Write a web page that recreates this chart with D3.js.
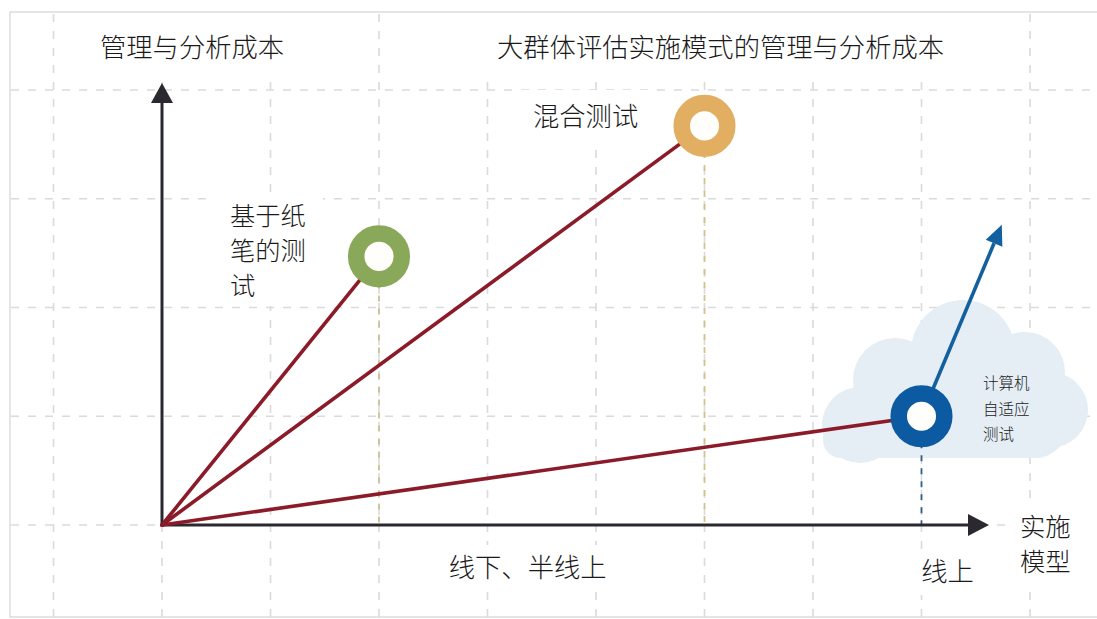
<!DOCTYPE html>
<html>
<head>
<meta charset="utf-8">
<script src="https://cdn.jsdelivr.net/npm/d3@7"></script>
<style>
  html, body { margin: 0; padding: 0; background: #fff; }
  svg { display: block; }
  text { font-family: "Noto Sans CJK SC", "Noto Sans", sans-serif; font-weight: 300; fill: #1a1a1a; }
</style>
</head>
<body>
<svg id="chart" width="1097" height="619"></svg>
<script>
// Assessment modes and their management / analysis cost (grid units)
const testNames = ["基于纸笔的测试", "混合测试", "计算机自适应测试"];
const implementation = [2, 5, 7];          // position along the implementation-model axis
const cost = [2.47, 3.67, 1.0];            // management and analysis cost
const costTrend = [7.74, 2.76];            // where the adaptive-testing cost is heading
const modeLabels = ["线下、半线上", "线上"];
const modeAt = [3.37, 7.24];
const gridX = [-1, 0, 1, 2, 3, 4, 5, 6, 7, 8];
const gridY = [0, 1, 2, 3, 4];

const titleText = "大群体评估实施模式的管理与分析成本";
const yAxisTitle = "管理与分析成本";
const xAxisTitle = ["实施", "模型"];

const ringColors = ["#8aa85a", "#e2ae62", "#0b5aa2"];
const dropColors = ["#cdbf94", "#d8c08a", "#2f5f86"];

const W = 1097, H = 619;
const FS = 26.3;      // single-line labels
const FS2 = 25.3;     // stacked labels
const svg = d3.select("#chart");

const x = d3.scaleLinear().domain([0, 8]).range([162, 1030]);
const y = d3.scaleLinear().domain([0, 4]).range([525, 90]);

// page frame
svg.append("rect").attr("x", 10).attr("y", 12).attr("width", W).attr("height", 605)
  .attr("fill", "#fff").attr("stroke", "#d4d4d4").attr("stroke-width", 1.2);

// dashed grid
const grid = svg.append("g").attr("stroke", "#dadada").attr("stroke-width", 1.6)
  .attr("stroke-dasharray", "8,9");
grid.selectAll("line.v").data(gridX).join("line").attr("class", "v")
  .attr("x1", d => x(d)).attr("x2", d => x(d)).attr("y1", 14).attr("y2", 617);
grid.selectAll("line.h").data(gridY).join("line").attr("class", "h")
  .attr("x1", 11).attr("x2", W).attr("y1", d => y(d)).attr("y2", d => y(d));

// white panels behind the text
const panels = [
  [75, 13, 225, 64],   // y-axis title
  [470, 13, 500, 64],  // chart title
  [515, 90, 140, 58],  // 混合测试
  [215, 198, 108, 108],// 基于纸笔的测试
  [435, 545, 190, 45], // 线下、半线上
  [905, 550, 85, 45],  // 线上
  [1005, 500, 92, 85]  // 实施模型
];
svg.append("g").selectAll("rect").data(panels).join("rect")
  .attr("x", d => d[0]).attr("y", d => d[1]).attr("width", d => d[2]).attr("height", d => d[3])
  .attr("fill", "#fff");

// cloud behind the adaptive-testing ring
const cloud = svg.append("g").attr("fill", "#e5edf5");
[[860, 425, 38], [895, 380, 42], [963, 352, 52], [1025, 372, 40], [1050, 410, 38], [1035, 425, 33]]
  .forEach(c => cloud.append("circle").attr("cx", c[0]).attr("cy", c[1]).attr("r", c[2]));
cloud.append("rect").attr("x", 850).attr("y", 395).attr("width", 200).attr("height", 63).attr("rx", 12);
cloud.append("rect").attr("x", 823).attr("y", 420).attr("width", 60).attr("height", 38).attr("rx", 18);

// drop lines from each ring to the horizontal axis
svg.append("g").selectAll("line").data(testNames).join("line")
  .attr("x1", (d, i) => x(implementation[i])).attr("x2", (d, i) => x(implementation[i]))
  .attr("y1", (d, i) => y(cost[i])).attr("y2", y(0))
  .attr("stroke", (d, i) => dropColors[i]).attr("stroke-width", 1.8)
  .attr("stroke-dasharray", "6,7");

// axes with arrowheads
const axisColor = "#2b2830";
svg.append("line").attr("x1", x(0)).attr("x2", x(0)).attr("y1", y(0) + 1.5).attr("y2", 100)
  .attr("stroke", axisColor).attr("stroke-width", 3);
svg.append("path").attr("d", `M${x(0)},83 L${x(0) - 11},103 L${x(0) + 11},103 Z`).attr("fill", axisColor);
svg.append("line").attr("x1", x(0)).attr("x2", 970).attr("y1", y(0)).attr("y2", y(0))
  .attr("stroke", axisColor).attr("stroke-width", 3);
svg.append("path").attr("d", `M989,${y(0)} L968,${y(0) - 11} L968,${y(0) + 11} Z`).attr("fill", axisColor);

// cost lines from the origin
svg.append("g").selectAll("line").data(testNames).join("line")
  .attr("x1", x(0)).attr("y1", y(0))
  .attr("x2", (d, i) => x(implementation[i])).attr("y2", (d, i) => y(cost[i]))
  .attr("stroke", "#8c1b2a").attr("stroke-width", 3.6).attr("stroke-linecap", "round");

// trend arrow for adaptive testing
const ax0 = x(implementation[2]), ay0 = y(cost[2]);
const ax1 = x(costTrend[0]), ay1 = y(costTrend[1]);
const ang = Math.atan2(ay1 - ay0, ax1 - ax0);
const headLen = 20, headHalf = 9;
const bx = ax1 - headLen * Math.cos(ang), by = ay1 - headLen * Math.sin(ang);
svg.append("line").attr("x1", ax0).attr("y1", ay0).attr("x2", bx).attr("y2", by)
  .attr("stroke", "#13609f").attr("stroke-width", 3.6);
svg.append("path")
  .attr("d", `M${ax1},${ay1} L${bx + headHalf * Math.sin(ang)},${by - headHalf * Math.cos(ang)} L${bx - headHalf * Math.sin(ang)},${by + headHalf * Math.cos(ang)} Z`)
  .attr("fill", "#13609f");

// rings
svg.append("g").selectAll("circle").data(testNames).join("circle")
  .attr("cx", (d, i) => x(implementation[i])).attr("cy", (d, i) => y(cost[i]))
  .attr("r", 22.8).attr("fill", "#fffefa")
  .attr("stroke", (d, i) => ringColors[i]).attr("stroke-width", 16.5);

// titles
svg.append("text").attr("x", 100).attr("y", 57).attr("font-size", FS).text(yAxisTitle);
svg.append("text").attr("x", 497).attr("y", 57).attr("font-size", FS).text(titleText);

// ring labels
svg.append("text").attr("x", 533).attr("y", 126).attr("font-size", FS).text(testNames[1]);
const paperLines = [testNames[0].slice(0, 3), testNames[0].slice(3, 6), testNames[0].slice(6)];
svg.append("g").selectAll("text").data(paperLines).join("text")
  .attr("x", 230).attr("y", (d, i) => 225 + i * 35.2).attr("font-size", FS2).text(d => d);
const cloudLines = [testNames[2].slice(0, 3), testNames[2].slice(3, 6), testNames[2].slice(6)];
svg.append("g").selectAll("text").data(cloudLines).join("text")
  .attr("x", 983).attr("y", (d, i) => 389 + i * 25.5).attr("font-size", 15.5).text(d => d);

// implementation-mode labels
svg.append("g").selectAll("text").data(modeLabels).join("text")
  .attr("x", (d, i) => x(modeAt[i])).attr("y", (d, i) => 577 + i * 4)
  .attr("text-anchor", "middle").attr("font-size", FS).text(d => d);
svg.append("g").selectAll("text").data(xAxisTitle).join("text")
  .attr("x", 1020).attr("y", (d, i) => 536 + i * 35.2).attr("font-size", FS2).text(d => d);
</script>
</body>
</html>
